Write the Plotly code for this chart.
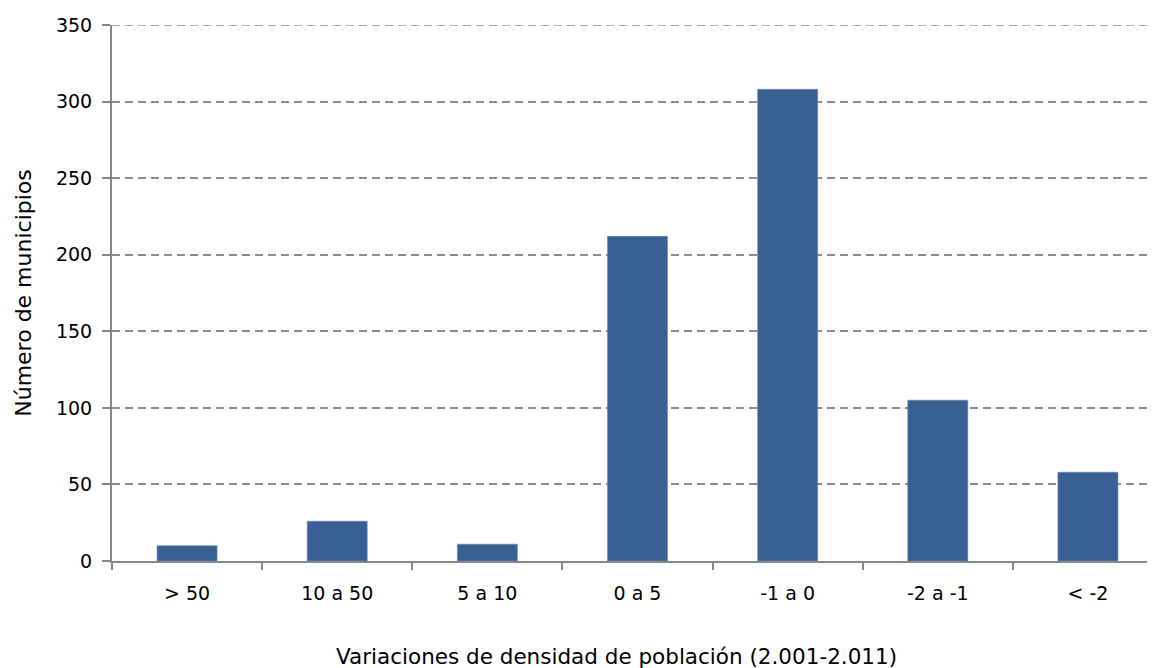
import plotly.graph_objects as go

categories = ["> 50", "10 a 50", "5 a 10", "0 a 5", "-1 a 0", "-2 a -1", "< -2"]
municipios = [10, 26, 11, 212, 308, 105, 58]
y_ticks = [0, 50, 100, 150, 200, 250, 300, 350]
x_title = "Variaciones de densidad de población (2.001-2.011)"
y_title = "Número de municipios"

FONT = "DejaVu Sans"
AXIS = "#878787"
GRID = "#8C8C8C"

fig = go.Figure()
fig.add_trace(go.Bar(
    x=categories, y=municipios,
    marker=dict(color="#375F91", line=dict(color="#6F8DB5", width=0.6)),
    width=0.4,
))

# top gridline (plotly may skip a gridline sitting exactly on the plot edge)
fig.add_shape(type="line", xref="paper", x0=0, x1=1, yref="y",
              y0=y_ticks[-1], y1=y_ticks[-1], layer="below",
              line=dict(color=GRID, width=1.5, dash="8px,5px"))

# x-axis title as an annotation (centred like the original chart)
fig.add_annotation(text=x_title, xref="paper", yref="paper", x=0.48, y=0,
                   xanchor="center", yanchor="middle", yshift=-95,
                   showarrow=False, font=dict(family=FONT, size=21.5, color="#000000"))

fig.update_layout(
    width=1155, height=668,
    margin=dict(l=104, r=0, t=17, b=115),
    plot_bgcolor="white", paper_bgcolor="white",
    showlegend=False,
    font=dict(family=FONT, size=20, color="#000000"),
)
fig.update_xaxes(
    type="category",
    range=[-0.5, 6.5],
    showline=True, linecolor=AXIS, linewidth=2,
    ticks="outside", tickson="boundaries", ticklen=7, tickcolor=AXIS, tickwidth=2,
    ticklabelstandoff=14,
    showgrid=False,
    tickfont=dict(family=FONT, size=19),
)
fig.update_yaxes(
    range=[0, 350],
    tickvals=y_ticks,
    showline=True, linecolor=AXIS, linewidth=2,
    ticks="outside", ticklen=8, tickcolor=AXIS, tickwidth=1.5,
    ticklabelstandoff=6,
    showgrid=True, gridcolor=GRID, griddash="8px,5px", gridwidth=1.5,
    zeroline=False,
    tickfont=dict(family=FONT, size=19),
    title=dict(text=y_title, font=dict(family=FONT, size=22), standoff=18),
)

fig.write_html("out.html")
